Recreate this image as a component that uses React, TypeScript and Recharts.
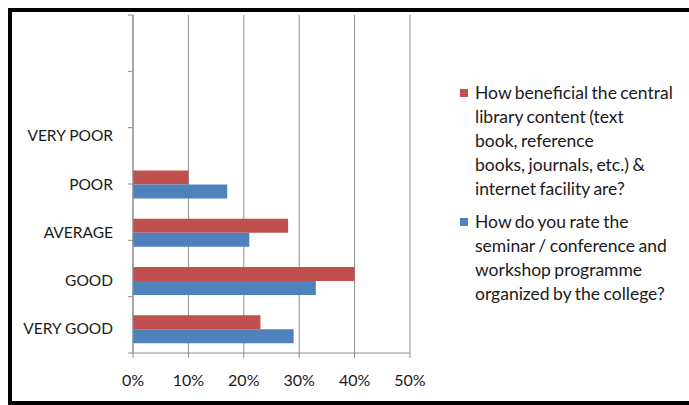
import { BarChart, Bar, XAxis, YAxis, CartesianGrid, Legend } from "recharts";

const categories = ["", " ", "VERY POOR", "POOR", "AVERAGE", "GOOD", "VERY GOOD"];
const libraryValues = [null, null, 0, 10, 28, 40, 23];
const seminarValues = [null, null, 0, 17, 21, 33, 29];
const xTicks = [0, 10, 20, 30, 40, 50];
const libraryName =
  "How beneficial the central\nlibrary content (text\nbook, reference\nbooks, journals, etc.) &\ninternet facility are?";
const seminarName =
  "How do you rate the\nseminar / conference and\nworkshop programme\norganized by the college?";

const RED = "#C0504D";
const BLUE = "#4F81BD";
const GRID = "#8C8C8C";
const FONT = "Lato, 'Open Sans', sans-serif";

const data = categories.map((name, i) => ({
  name,
  library: libraryValues[i],
  seminar: seminarValues[i],
}));

// ticks at band edges, like Excel
const edgeTicks = categories.map((_, i) => i).concat(categories.length);

function LegendBox({ payload }: any) {
  return (
    <div style={{ fontFamily: FONT, fontSize: 17.5, color: "#1a1a1a", wordSpacing: -1 }}>
      {(payload || []).map((entry: any, i: number) => (
        <div key={i} style={{ display: "flex", marginBottom: 9 }}>
          <div
            style={{
              width: 8,
              height: 8,
              background: entry.color,
              marginTop: 8,
              marginRight: 7,
              flexShrink: 0,
            }}
          />
          <div style={{ whiteSpace: "pre-line", lineHeight: "24px" }}>{entry.value}</div>
        </div>
      ))}
    </div>
  );
}

export default function App() {
  return (
    <div style={{ position: "fixed", left: 0, top: 0, width: 689, height: 405, overflow: "hidden", background: "#fff" }}>
      <div
        style={{
          position: "absolute",
          left: 8,
          top: 8,
          width: 720,
          height: 397,
          border: "4px solid #000",
          boxSizing: "border-box",
        }}
      />
      <div style={{ position: "absolute", left: 0, top: 0 }}>
        <BarChart
          width={689}
          height={405}
          data={data}
          layout="vertical"
          margin={{ top: 15, right: 279, bottom: 0, left: 0 }}
          barCategoryGap="22%"
          barGap={0}
        >
          <CartesianGrid horizontal={false} stroke={GRID} yAxisId={0} />
          <XAxis
            type="number"
            domain={[0, 50]}
            ticks={xTicks}
            tickFormatter={(v) => `${v}%`}
            height={52}
            stroke={GRID}
            tickSize={5}
            tickMargin={17}
            tick={{ fill: "#1a1a1a", fontSize: 16, fontFamily: FONT }}
          />
          <YAxis
            yAxisId={0}
            type="number"
            domain={[0, categories.length]}
            ticks={edgeTicks}
            reversed
            width={1}
            tickSize={5}
            stroke={GRID}
            tickFormatter={() => ""}
          />
          <YAxis
            yAxisId="cat"
            type="category"
            dataKey="name"
            width={132}
            axisLine={false}
            tickLine={false}
            tickSize={6}
            tickMargin={13}
            tick={{ fill: "#1a1a1a", fontSize: 15.5, fontFamily: FONT }}
          />
          <Bar yAxisId="cat" dataKey="library" name={libraryName} fill={RED} isAnimationActive={false} />
          <Bar yAxisId="cat" dataKey="seminar" name={seminarName} fill={BLUE} isAnimationActive={false} />
          <Legend
            layout="vertical"
            align="center"
            verticalAlign="middle"
            content={LegendBox}
            wrapperStyle={{ left: 460, top: 81, width: 229 }}
          />
        </BarChart>
      </div>
    </div>
  );
}
